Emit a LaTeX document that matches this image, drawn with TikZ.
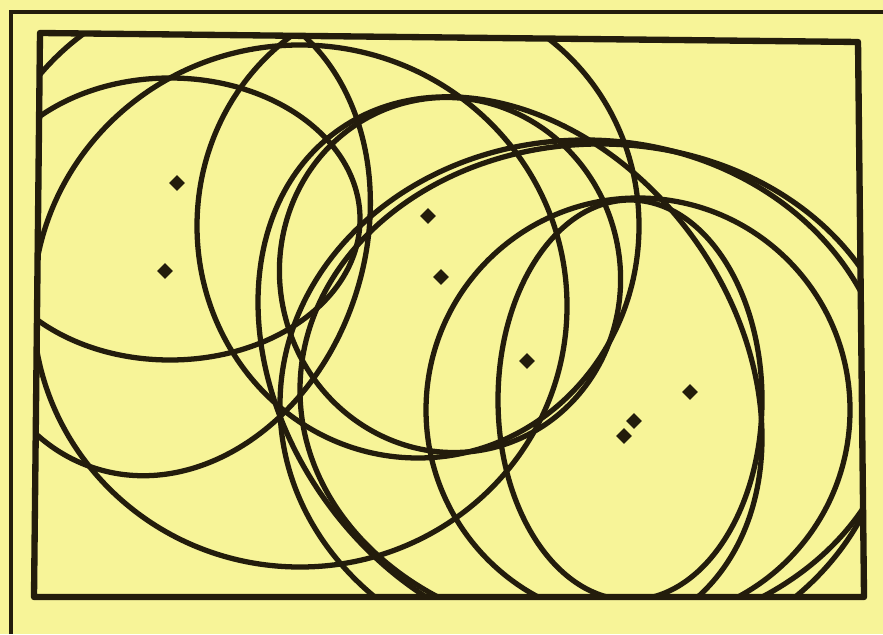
\documentclass[tikz,border=0pt]{standalone}
\usetikzlibrary{shapes.geometric}
\definecolor{paper}{RGB}{247,244,152}
\definecolor{ink}{RGB}{35,28,12}
\begin{document}
\begin{tikzpicture}[x=0.01cm,y=-0.01cm,
  ring/.style={draw=ink,line width=1.5pt},
  dotmark/.style={diamond,fill=ink,inner sep=0pt,minimum size=4.6pt}]
\fill[paper] (0,0) rectangle (883,634);
\useasboundingbox (0,0) rectangle (883,634);
\draw[ink,line width=1pt] (11,634) -- (11,12) -- (883,12);
\coordinate (tl) at (40,33);
\coordinate (tr) at (858,42);
\coordinate (br) at (864,597);
\coordinate (bl) at (34,597);
\begin{scope}
\clip (tl) -- (tr) -- (br) -- (bl) -- cycle;
% left group
\draw[ring] (300,306) ellipse [x radius=267,y radius=261];
\draw[ring] (170,219) ellipse [x radius=190,y radius=141];
\draw[ring,rotate around={-18:(170,235)}] (170,235) ellipse [x radius=195,y radius=245];
% centre group
\draw[ring] (418,226) ellipse [x radius=221,y radius=232];
\draw[ring,rotate around={15:(450,275)}] (450,275) ellipse [x radius=170,y radius=178];
\draw[ring,rotate around={-54:(510,370)}] (510,370) ellipse [x radius=295,y radius=226];
% right group
\draw[ring] (600,390) ellipse [x radius=300,y radius=246];
\draw[ring] (585,405) ellipse [x radius=305,y radius=265];
\draw[ring] (630,400) ellipse [x radius=132,y radius=200];
\draw[ring] (638,410) ellipse [x radius=212,y radius=212];
\end{scope}
\draw[ink,line width=1.8pt,line join=round] (tl) -- (tr) -- (br) -- (bl) -- cycle;
\foreach \n/\x/\y in {a/177/183,b/165/271,c/428/216,d/441/277,e/527/361,f/690/392,g/634/421,h/624/436}
  \node[dotmark] (\n) at (\x,\y) {};
\end{tikzpicture}
\end{document}
